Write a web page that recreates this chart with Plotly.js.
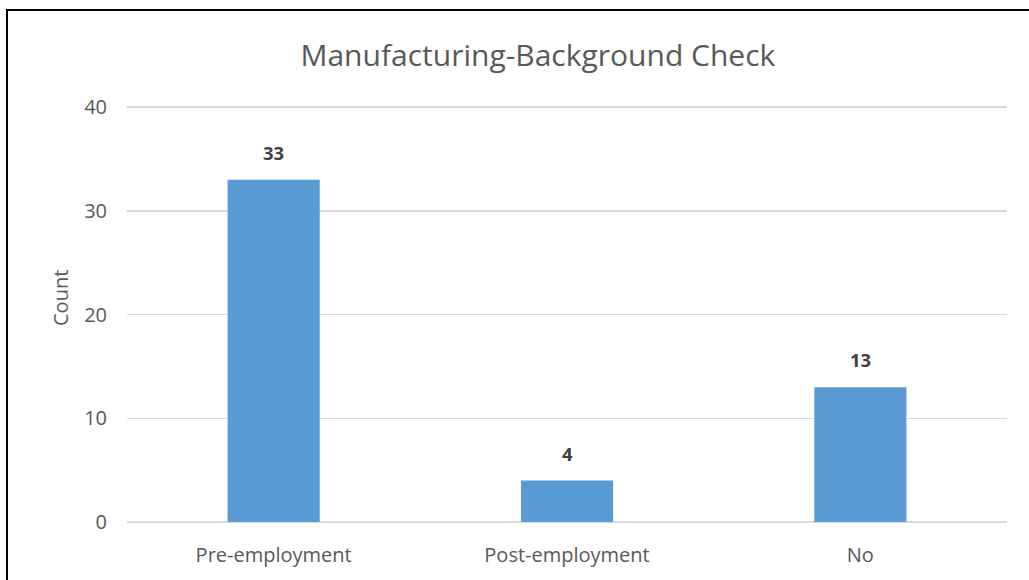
<!DOCTYPE html>
<html>
<head>
<meta charset="utf-8">
<script src="https://cdn.plot.ly/plotly-3.0.1.min.js"></script>
<style>
  html, body { margin: 0; padding: 0; background: #ffffff; }
  #frame { position: absolute; left: 6px; top: 9px; width: 1023px; height: 571px;
           border-left: 2px solid #000; border-top: 2px solid #000; box-sizing: border-box; }
  #chart { width: 1021px; height: 569px; }
</style>
</head>
<body>
<div id="frame"><div id="chart"></div></div>
<script>
const categories = ["Pre-employment", "Post-employment", "No"];
const counts = [33, 4, 13];
const yTicks = [0, 10, 20, 30, 40];
const chartTitle = "Manufacturing-Background Check";
const yTitle = "Count";

const FONT = '"Open Sans", "Noto Sans", sans-serif';

const trace = {
  type: "bar",
  x: categories,
  y: counts,
  marker: { color: "#5B9BD5" },
  hoverinfo: "x+y"
};

const annotations = categories.map((c, i) => ({
  x: c, y: counts[i], xref: "x", yref: "y",
  text: "<b>" + counts[i] + "</b>",
  showarrow: false, yanchor: "bottom", yshift: 13,
  font: { family: FONT, size: 18.5, color: "#404040" }
}));
annotations.push({
  text: yTitle, textangle: -90,
  xref: "paper", x: (52 - 119) / 880, xanchor: "center",
  yref: "paper", y: (511 - 287) / 416, yanchor: "middle",
  showarrow: false,
  font: { family: FONT, size: 20, color: "#595959" }
});

const layout = {
  width: 1021, height: 569,
  margin: { l: 119, r: 22, t: 95, b: 58 },
  paper_bgcolor: "#ffffff",
  plot_bgcolor: "#ffffff",
  font: { family: FONT, color: "#595959" },
  title: {
    text: chartTitle,
    font: { family: FONT, size: 30, color: "#595959" },
    xref: "container", x: 0.519, xanchor: "center",
    yref: "container", y: 1 - 44 / 569, yanchor: "middle"
  },
  bargap: 0.686,
  showlegend: false,
  xaxis: {
    type: "category",
    showgrid: false, showline: false, zeroline: false,
    ticks: "",
    tickfont: { family: FONT, size: 20, color: "#595959" },
    ticklabelstandoff: 19
  },
  yaxis: {
    range: [0, 40.1],
    tickvals: yTicks,
    ticktext: yTicks.map(String),
    showgrid: true, gridcolor: "#D9D9D9", gridwidth: 1.5,
    zeroline: true, zerolinecolor: "#D9D9D9", zerolinewidth: 1.5,
    showline: false, ticks: "",
    tickfont: { family: FONT, size: 20, color: "#595959" },
    ticklabelstandoff: 19
  },
  annotations: annotations
};

Plotly.newPlot("chart", [trace], layout, { displayModeBar: false, staticPlot: true });
</script>
</body>
</html>
